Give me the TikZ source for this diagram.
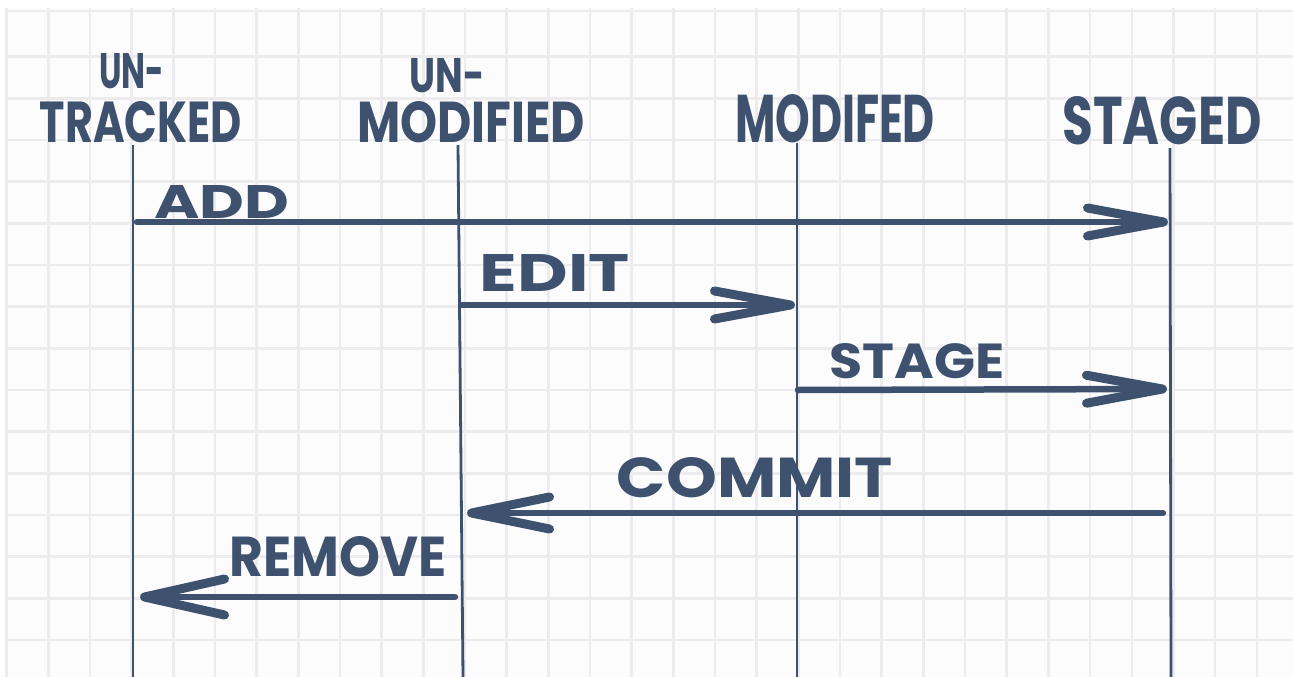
\documentclass[tikz,border=0pt]{standalone}
\usepackage{fontspec}
\usepackage{graphicx}
\newfontfamily\hand{Poppins}
\usetikzlibrary{arrows.meta}
\definecolor{ink}{RGB}{62,82,112}
\definecolor{gridc}{RGB}{236,236,239}
\definecolor{paper}{RGB}{252,252,253}
\newcommand\lbl[3]{\resizebox{#1pt}{#2pt}{\hand\bfseries #3}}
\tikzset{
  lifeline/.style={draw=ink, line width=2.8pt},
  msg/.style={draw=ink, line width=6.5pt, line cap=round,
    -{Straight Barb[length=76pt,width=28pt,line width=9pt,round]}},
  txt/.style={inner sep=0pt, text=ink}
}
\begin{document}
\begin{tikzpicture}[x=1pt,y=-1pt]
\useasboundingbox (0,0) rectangle (1293,677);
\fill[white] (0,0) rectangle (1293,677);
\fill[paper] (7,8) rectangle (1293,677);
% grid
\foreach \k in {0,...,31} {
  \draw[gridc, line width=2.6pt] ({6.7+41.67*\k},8) -- ({6.7+41.67*\k},677);
}
\draw[gridc, line width=2.6pt] (7,11) -- (1293,11);
\foreach \k in {1,...,15} {
  \draw[gridc, line width=2.6pt] (7,{15+41.67*\k}) -- (1293,{15+41.67*\k});
}
% headers
\node[txt] (u1) at (132,71) {\lbl{65}{35}{UN-}};
\node[txt] (h1) at (141,122) {\lbl{202}{41}{TRACKED}};
\node[txt] (u2) at (447,76) {\lbl{75}{34}{UN-}};
\node[txt] (h2) at (471,122) {\lbl{228}{41}{MODIFIED}};
\node[txt] (h3) at (835,119) {\lbl{200}{48}{MODIFED}};
\node[txt] (h4) at (1162,121) {\lbl{199}{48}{STAGED}};
% lifelines
\coordinate (t1) at (133,145); \coordinate (b1) at (133,677);
\coordinate (t2) at (458,145); \coordinate (b2) at (463,677);
\coordinate (t3) at (797,143); \coordinate (b3) at (797,677);
\coordinate (t4) at (1170,148); \coordinate (b4) at (1171,677);
\draw[lifeline] (t1) -- (b1);
\draw[lifeline] (t2) -- (b2);
\draw[lifeline] (t3) -- (b3);
\draw[lifeline] (t4) -- (b4);
% messages
\coordinate (a1) at (137,222); \coordinate (a2) at (1168,222);
\coordinate (e1) at (461,305); \coordinate (e2) at (795,305);
\coordinate (s1) at (798,390); \coordinate (s2) at (1167,389);
\coordinate (c1) at (1163,513); \coordinate (c2) at (467,513);
\coordinate (r1) at (455,597); \coordinate (r2) at (140,597);
\draw[msg] (a1) -- (a2);
\draw[msg] (e1) -- (e2);
\draw[msg] (s1) -- (s2);
\draw[msg,-{Straight Barb[length=78pt,width=32pt,line width=9pt,round]}] (c1) -- (c2);
\draw[msg,-{Straight Barb[length=80pt,width=36pt,line width=9pt,round]}] (r1) -- (r2);
% labels
\node[txt] (la) at (222,202) {\lbl{135}{33}{ADD}};
\node[txt] (le) at (555,273) {\lbl{150}{37}{EDIT}};
\node[txt] (ls) at (917,361) {\lbl{175}{35}{STAGE}};
\node[txt] (lc) at (755,478) {\lbl{276}{40}{COMMIT}};
\node[txt] (lr) at (338,557) {\lbl{217}{40}{REMOVE}};
\end{tikzpicture}
\end{document}
